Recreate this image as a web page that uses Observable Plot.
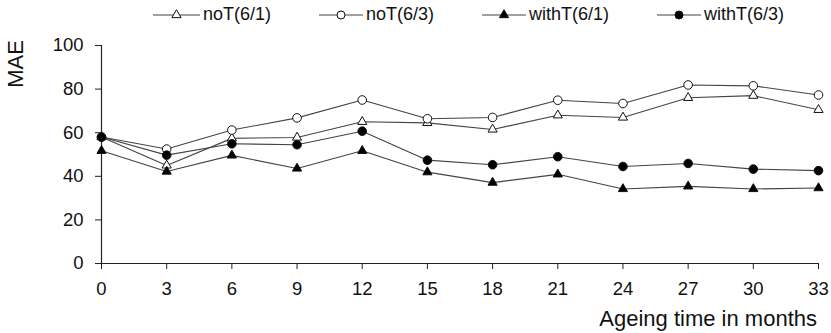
<!DOCTYPE html>
<html>
<head>
<meta charset="utf-8">
<script src="https://cdn.jsdelivr.net/npm/d3@7"></script>
<script src="https://cdn.jsdelivr.net/npm/@observablehq/plot@0.6"></script>
<style>
  html, body { margin: 0; padding: 0; background: #fff; }
  #wrap { position: relative; width: 831px; height: 333px; font-family: "Liberation Sans", Arial, sans-serif; color: #111; }
  #legend { position: absolute; left: 153px; top: 4px; display: flex; gap: 48px; font-size: 18px; align-items: center; }
  .item { display: flex; align-items: center; }
  .item span { margin-left: 3px; }
  #ylab { position: absolute; left: -8px; top: 64px; font-size: 22px; transform: translate(0, -50%) rotate(-90deg); transform-origin: 50% 50%; }
  #xlab { position: absolute; right: 14px; bottom: 1px; font-size: 22px; }
</style>
</head>
<body>
<div id="wrap">
  <div id="chart"></div>
  <div id="legend"></div>
  <div id="ylab">MAE</div>
  <div id="xlab">Ageing time in months</div>
</div>
<script>
const months = [0, 3, 6, 9, 12, 15, 18, 21, 24, 27, 30, 33];
const seriesNames = ["noT(6/1)", "noT(6/3)", "withT(6/1)", "withT(6/3)"];
const noT61   = [58, 45, 57.4, 57.8, 65, 64.5, 61.5, 68, 67, 76, 77, 70.5];
const noT63   = [58, 52.5, 61.2, 66.8, 75, 66.4, 67, 74.9, 73.4, 81.9, 81.5, 77.3];
const withT61 = [51.7, 42.2, 49.6, 43.6, 51.7, 41.9, 37.1, 40.9, 34.2, 35.4, 34.2, 34.6];
const withT63 = [58, 49.7, 54.9, 54.5, 60.7, 47.4, 45.3, 49, 44.5, 45.9, 43.3, 42.6];
const yTicks = [0, 20, 40, 60, 80, 100];
const symbols = ["triangle", "circle", "triangle", "circle"];
const fills = ["white", "white", "black", "black"];

const values = [noT61, noT63, withT61, withT63];
const rows = [];
seriesNames.forEach((s, i) => months.forEach((m, j) => rows.push({series: s, month: m, value: values[i][j]})));

const lineColor = "#444";
const marks = [];
seriesNames.forEach((s, i) => {
  marks.push(Plot.line(rows.filter(d => d.series === s), {x: "month", y: "value", stroke: lineColor, strokeWidth: 1.1}));
});
seriesNames.forEach((s, i) => {
  const r = symbols[i] === "circle" ? 4.3 : 3.4;
  marks.push(Plot.dot(rows.filter(d => d.series === s), {x: "month", y: "value", symbol: () => symbols[i], r, fill: fills[i], stroke: "#111", strokeWidth: 1}));
});

const chart = Plot.plot({
  width: 831,
  height: 333,
  marginLeft: 101,
  marginRight: 13,
  marginTop: 45,
  marginBottom: 70,
  style: {fontFamily: "Liberation Sans, Arial, sans-serif", fontSize: "18.5px", color: "#111", background: "white"},
  symbol: {type: "identity"},
  x: {domain: [0, 33]},
  y: {domain: [0, 100]},
  marks: [
    Plot.axisX({ticks: months, tickSize: 6, tickPadding: 12, label: null, fontSize: 18.5, stroke: "#222"}),
    Plot.axisY({ticks: yTicks, tickSize: 6, tickPadding: 12, label: null, fontSize: 18.5, stroke: "#222"}),
    Plot.ruleX([0], {stroke: "#222", strokeWidth: 1.2}),
    Plot.ruleY([0], {stroke: "#222", strokeWidth: 1.2}),
    ...marks
  ]
});
document.getElementById("chart").appendChild(chart);

// Legend
const legend = document.getElementById("legend");
seriesNames.forEach((s, i) => {
  const item = document.createElement("div");
  item.className = "item";
  const w = i === 0 ? 47 : 44;
  const sym = symbols[i] === "circle"
    ? `<circle cx="${w/2}" cy="8" r="4" fill="${fills[i]}" stroke="#111"/>`
    : `<path d="${d3.symbol(d3.symbolTriangle, Math.PI * 3.4 * 3.4)()}" transform="translate(${w/2},8)" fill="${fills[i]}" stroke="#111"/>`;
  item.innerHTML = `<svg width="${w}" height="16"><line x1="0" x2="${w}" y1="8" y2="8" stroke="${lineColor}" stroke-width="1.1"/>${sym}</svg><span>${s}</span>`;
  legend.appendChild(item);
});
</script>
</body>
</html>
